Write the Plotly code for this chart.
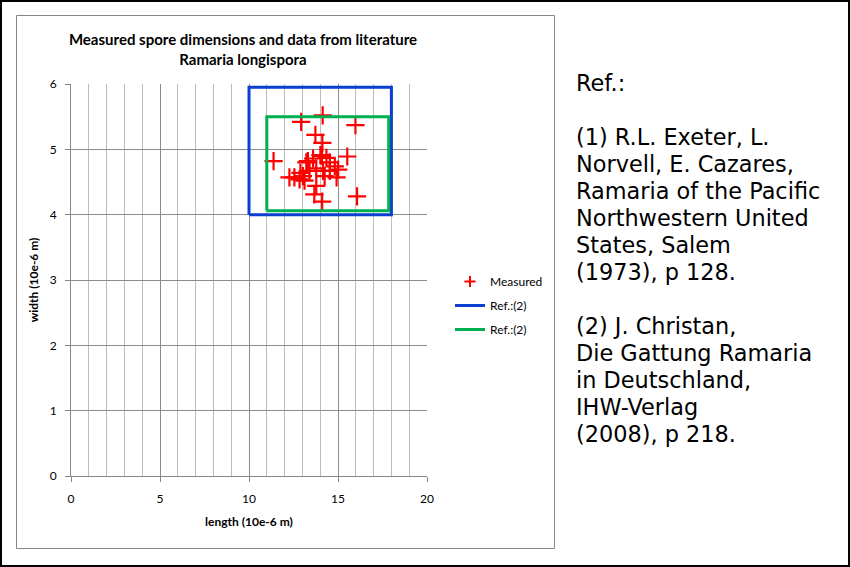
import plotly.graph_objects as go

# ---- data ----
length = [14.14, 12.93, 15.98, 13.73, 14.12, 11.38, 15.52, 16.07, 14.11, 13.67, 13.78,
          13.31, 13.60, 14.01, 14.35, 14.54, 14.82, 15.01, 14.92, 14.16, 13.78, 13.40,
          12.55, 12.84, 13.03, 13.12, 12.89, 14.25, 14.54, 13.22, 14.10, 12.27]
width = [5.52, 5.42, 5.37, 5.22, 5.10, 4.82, 4.89, 4.28, 4.20, 4.31, 4.44,
         4.82, 4.86, 4.91, 4.87, 4.80, 4.74, 4.69, 4.57, 4.67, 4.71, 4.67,
         4.57, 4.54, 4.59, 4.52, 4.64, 4.59, 4.67, 4.80, 4.90, 4.57]

ref_blue_length = [10, 18]
ref_blue_width = [4, 5.95]
ref_green_length = [11, 17.85]
ref_green_width = [4.06, 5.5]

legend_names = ["Measured", "Ref.:(2)", "Ref.:(2)"]

ref_lines = ["Ref.:", "",
             "(1) R.L. Exeter, L.", "Norvell, E. Cazares,", "Ramaria of the Pacific",
             "Northwestern United", "States, Salem", "(1973), p 128.", "",
             "(2) J. Christan,", "Die Gattung Ramaria", "in Deutschland,",
             "IHW-Verlag", "(2008), p 218."]


def rect(xs, ys):
    return [xs[0], xs[1], xs[1], xs[0], xs[0]], [ys[0], ys[0], ys[1], ys[1], ys[0]]


W, H = 850, 567
L, R, T, B = 71, 423, 84, 91
PW, PH = W - L - R, H - T - B


def xp(px):
    return (px - L) / PW


def yp(py):
    return (H - B - py) / PH


FONT = "Lato, 'Open Sans', sans-serif"

fig = go.Figure()
fig.add_trace(go.Scatter(
    x=length, y=width, mode="markers", name=legend_names[0], showlegend=False,
    marker=dict(symbol="cross-thin", size=13, color="#ff0000",
                line=dict(color="#ff0000", width=2.2)),
))
# legend swatch for the measured points (smaller marker, like the reference)
fig.add_trace(go.Scatter(
    x=[None], y=[None], mode="markers", name=legend_names[0], legendgroup="a",
    marker=dict(symbol="cross-thin", size=8, color="#ff0000",
                line=dict(color="#ff0000", width=2)),
))
bx, by = rect(ref_blue_length, ref_blue_width)
fig.add_trace(go.Scatter(x=bx, y=by, mode="lines", name=legend_names[1], legendgroup="b",
                         line=dict(color="#0a3fd0", width=3)))
gx, gy = rect(ref_green_length, ref_green_width)
fig.add_trace(go.Scatter(x=gx, y=gy, mode="lines", name=legend_names[2], legendgroup="c",
                         line=dict(color="#00b050", width=3)))

axis_common = dict(
    showline=True, linecolor="#868686", linewidth=1, mirror=False,
    ticks="outside", tickcolor="#868686", ticklen=5,
    tickfont=dict(family=FONT, size=12, color="#000000"),
    zeroline=False, showgrid=True, gridcolor="#8c8c8c", gridwidth=1,
)

fig.update_layout(
    width=W, height=H,
    margin=dict(l=L, r=R, t=T, b=B),
    paper_bgcolor="white", plot_bgcolor="white",
    showlegend=True,
    legend=dict(x=xp(450), y=yp(267), xanchor="left", yanchor="top",
                font=dict(family=FONT, size=12, color="#000000"),
                tracegroupgap=5, bgcolor="rgba(0,0,0,0)"),
    title=dict(
        text="<b>Measured spore dimensions and data from literature<br>Ramaria longispora</b>",
        x=243 / W, xanchor="center", y=1 - 45 / H, yanchor="middle",
        font=dict(family=FONT, size=15, color="#000000"),
    ),
    xaxis=dict(
        range=[0, 20], dtick=5, tick0=0,
        title=dict(text="<b>length (10e-6 m)</b>", standoff=12,
                   font=dict(family=FONT, size=12, color="#000000")),
        minor=dict(dtick=1, showgrid=True, gridcolor="#bdbdbd", ticks=""),
        ticklabelstandoff=7,
        **axis_common,
    ),
    yaxis=dict(
        range=[0, 6], dtick=1, tick0=0,
        title=dict(text="<b>width (10e-6 m)</b>", standoff=8,
                   font=dict(family=FONT, size=12, color="#000000")),
        ticklabelstandoff=6,
        **axis_common,
    ),
)

shapes = [
    dict(type="rect", xref="paper", yref="paper", x0=xp(1), x1=xp(849), y0=yp(1), y1=yp(566),
         line=dict(color="#000000", width=2), fillcolor="rgba(0,0,0,0)", layer="below"),
    dict(type="rect", xref="paper", yref="paper", x0=xp(16.5), x1=xp(554.5), y0=yp(15.5), y1=yp(548.5),
         line=dict(color="#868686", width=1), fillcolor="rgba(0,0,0,0)", layer="below"),
]
fig.update_layout(shapes=shapes)

annotations = []
y0, step = 83, 27.0
for i, line in enumerate(ref_lines):
    if not line:
        continue
    annotations.append(dict(
        text=line, xref="paper", yref="paper", x=xp(574), y=yp(y0 + i * step),
        xanchor="left", yanchor="middle", showarrow=False, align="left",
        font=dict(family="DejaVu Sans", size=22.4, color="#000000"),
    ))
fig.update_layout(annotations=annotations)

fig.write_html("out.html")
